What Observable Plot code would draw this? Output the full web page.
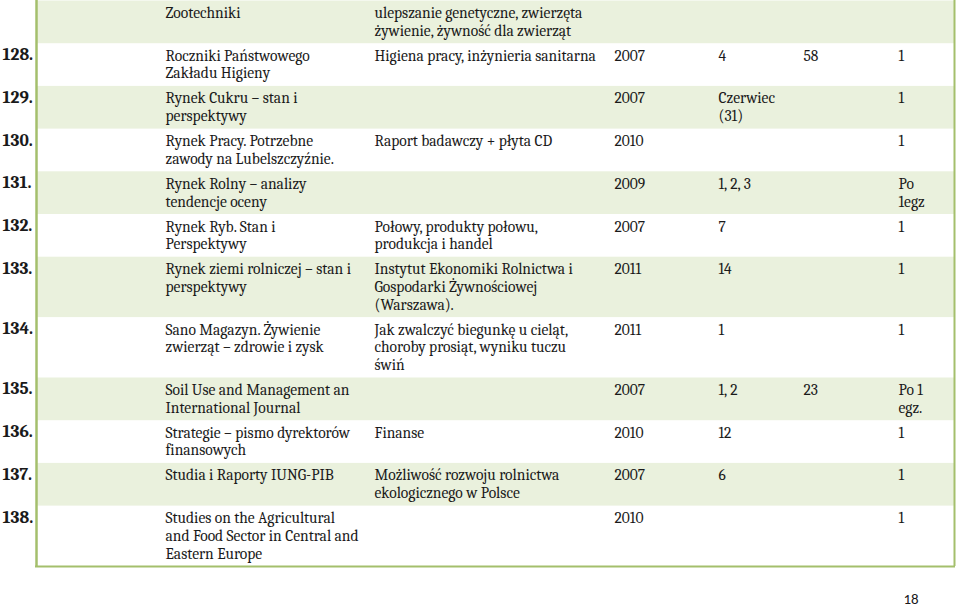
<!DOCTYPE html>
<html>
<head>
<meta charset="utf-8">
<script src="https://cdn.jsdelivr.net/npm/d3@7"></script>
<script src="https://cdn.jsdelivr.net/npm/@observablehq/plot@0.6"></script>
<style>
  html, body { margin: 0; padding: 0; background: #ffffff; }
  #chart svg { display: block; }
</style>
</head>
<body>
<div id="chart"></div>
<script>
// ---- Table data (one entry per row) ----
const numery = ["", "128.", "129.", "130.", "131.", "132.", "133.", "134.", "135.", "136.", "137.", "138."];
const tytuly = [
  "Zootechniki",
  "Roczniki Państwowego\nZakładu Higieny",
  "Rynek Cukru – stan i\nperspektywy",
  "Rynek Pracy. Potrzebne\nzawody na Lubelszczyźnie.",
  "Rynek Rolny – analizy\ntendencje oceny",
  "Rynek Ryb. Stan i\nPerspektywy",
  "Rynek ziemi rolniczej – stan i\nperspektywy",
  "Sano Magazyn. Żywienie\nzwierząt – zdrowie i zysk",
  "Soil Use and Management an\nInternational Journal",
  "Strategie – pismo dyrektorów\nfinansowych",
  "Studia i Raporty IUNG-PIB",
  "Studies on the Agricultural\nand Food Sector in Central and\nEastern Europe"
];
const opisy = [
  "ulepszanie genetyczne, zwierzęta\nżywienie, żywność dla zwierząt",
  "Higiena pracy, inżynieria sanitarna",
  "",
  "Raport badawczy + płyta CD",
  "",
  "Połowy, produkty połowu,\nprodukcja i handel",
  "Instytut Ekonomiki Rolnictwa i\nGospodarki Żywnościowej\n(Warszawa).",
  "Jak zwalczyć biegunkę u cieląt,\nchoroby prosiąt, wyniku tuczu\nświń",
  "",
  "Finanse",
  "Możliwość rozwoju rolnictwa\nekologicznego w Polsce",
  ""
];
const lata = ["", "2007", "2007", "2010", "2009", "2007", "2011", "2011", "2007", "2010", "2007", "2010"];
const numeryWydan = ["", "4", "Czerwiec\n(31)", "", "1, 2, 3", "7", "14", "1", "1, 2", "12", "6", ""];
const strony = ["", "58", "", "", "", "", "", "", "23", "", "", ""];
const egzemplarze = ["", "1", "1", "1", "Po\n1egz", "1", "1", "1", "Po 1\negz.", "1", "1", "1"];
const stronaNr = "18";

// ---- Layout (table geometry in the page's coordinate units) ----
const W = 960, H = 607;
const LINE = 17.7, PAD = 7.3, TOP = 0.5;
const colStart = {nr: 2, tytul: 165, opis: 374, rok: 614, numer: 718, strony: 803, egz: 898};
const tableLeft = 36, tableRight = 954;
const FILL = "#eaf1dd", BORDER = "#a4bf6c";

const nLines = s => s === "" ? 1 : s.split("\n").length;
let y = TOP;
const rows = numery.map((nr, i) => {
  const cells = {nr, tytul: tytuly[i], opis: opisy[i], rok: lata[i], numer: numeryWydan[i], strony: strony[i], egz: egzemplarze[i]};
  const lines = Math.max(...Object.values(cells).map(nLines));
  const h = lines * LINE + PAD;
  const r = {i, ...cells, y1: y, y2: y + h, shaded: i % 2 === 0};
  y += h;
  return r;
});
const tableBottom = y;

const cellData = [];
for (const r of rows) {
  for (const key of ["tytul", "opis", "rok", "numer", "strony", "egz"]) {
    if (r[key] !== "") cellData.push({x: colStart[key], y: r.y1 + 4.5, text: r[key]});
  }
}

const serif = "Cambria, 'Liberation Serif', 'DejaVu Serif', serif";

const chart = Plot.plot({
  width: W,
  height: H,
  margin: 0,
  x: {domain: [0, W], range: [0, W], axis: null},
  y: {domain: [0, H], range: [0, H], axis: null},
  marks: [
    Plot.rect(rows.filter(d => d.shaded), {x1: tableLeft, x2: tableRight, y1: "y1", y2: "y2", fill: FILL}),
    Plot.text(cellData, {
      x: "x", y: "y", text: "text",
      textAnchor: "start", lineAnchor: "top", lineHeight: LINE / 15.5,
      fontSize: 15.5, fontFamily: serif, fill: "#1a1a1a"
    }),
    Plot.text(rows.filter(d => d.nr !== ""), {
      x: colStart.nr, y: d => d.y1 + 4, text: "nr",
      textAnchor: "start", lineAnchor: "top",
      fontSize: 17.5, fontWeight: "bold", fontFamily: serif, fill: "#1a1a1a"
    }),
    Plot.ruleX([tableLeft], {y1: 0, y2: tableBottom, stroke: BORDER, strokeWidth: 2.5}),
    Plot.ruleX([tableRight], {y1: 0, y2: tableBottom, stroke: BORDER, strokeWidth: 2}),
    Plot.ruleY([tableBottom], {x1: tableLeft - 1, x2: tableRight + 1, stroke: BORDER, strokeWidth: 2}),
    Plot.text([stronaNr], {
      x: 903, y: 599, text: d => d, textAnchor: "start",
      fontSize: 15, fontFamily: "Carlito, 'Open Sans', 'Liberation Sans', sans-serif", fill: "#1a1a1a"
    })
  ]
});
document.getElementById("chart").appendChild(chart);
</script>
</body>
</html>
